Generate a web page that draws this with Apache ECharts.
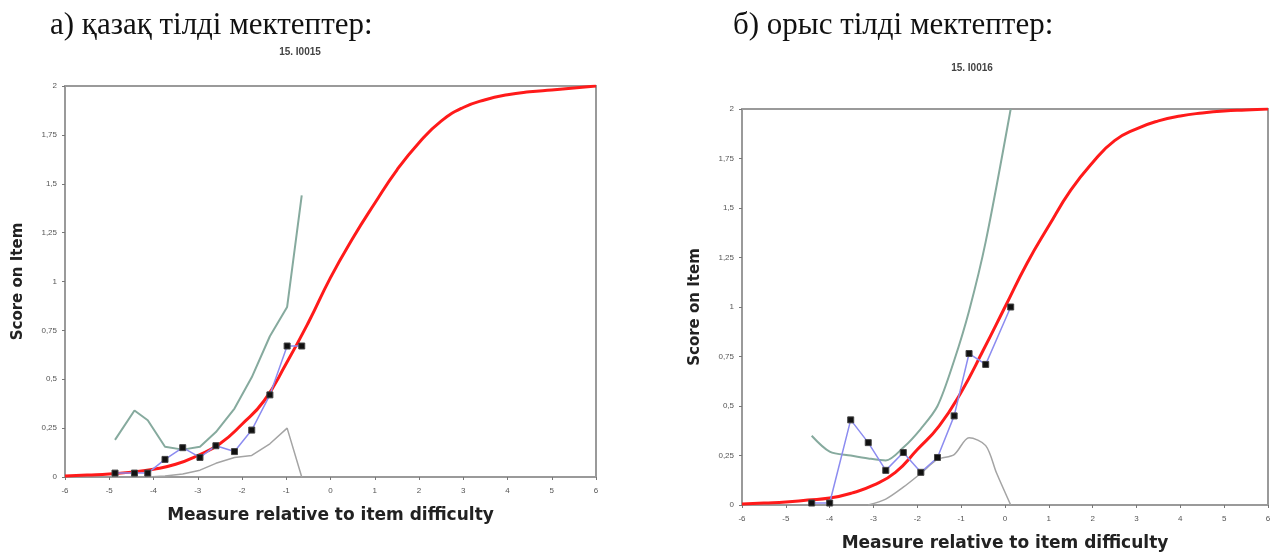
<!DOCTYPE html>
<html>
<head>
<meta charset="utf-8">
<script src="https://cdn.jsdelivr.net/npm/echarts@6/dist/echarts.min.js"></script>
<style>
  html, body { margin: 0; padding: 0; background: #fff; }
  #chart { width: 1275px; height: 557px; }
</style>
</head>
<body>
<div id="chart"></div>
<script>
// шапкалар
const headers = ['а) қазақ тілді мектептер:', 'б) орыс тілді мектептер:']
const itemTitles = ['15. I0015', '15. I0016']
const xName = 'Measure relative to item difficulty'
const yName = 'Score on Item'

// модель қисығы (қызыл) — x нүктелері
const modelX = [-6, -5.5, -5, -4.5, -4, -3.5, -3, -2.5, -2, -1.5, -1, -0.5, 0, 0.5, 1, 1.5, 2, 2.5, 3, 3.5, 4, 4.5, 5, 5.5, 6]
const leftModel = [0.005, 0.01, 0.015, 0.025, 0.04, 0.065, 0.11, 0.17, 0.27, 0.39, 0.58, 0.79, 1.02, 1.22, 1.4, 1.57, 1.71, 1.82, 1.89, 1.93, 1.955, 1.97, 1.98, 1.99, 2]
const rightModel = [0.005, 0.01, 0.015, 0.025, 0.035, 0.06, 0.1, 0.165, 0.28, 0.4, 0.57, 0.78, 1.0, 1.22, 1.41, 1.59, 1.73, 1.84, 1.9, 1.94, 1.965, 1.98, 1.99, 1.995, 2]

// а) бақыланған мәндер
const leftObsX = [-4.87, -4.43, -4.13, -3.74, -3.34, -2.95, -2.59, -2.17, -1.78, -1.37, -0.98, -0.65]
const leftObs = [0.02, 0.02, 0.02, 0.09, 0.15, 0.1, 0.16, 0.13, 0.24, 0.42, 0.67, 0.67]
const leftUpper = [0.19, 0.34, 0.29, 0.155, 0.14, 0.155, 0.23, 0.35, 0.51, 0.72, 0.87, 1.44]
const leftLowerX = [-4.13, -3.74, -3.34, -2.95, -2.59, -2.17, -1.78, -1.37, -0.98, -0.65]
const leftLower = [0, 0.005, 0.015, 0.035, 0.07, 0.1, 0.11, 0.17, 0.25, 0]

// б) бақыланған мәндер
const rightObsX = [-4.41, -4.0, -3.52, -3.12, -2.72, -2.32, -1.92, -1.54, -1.16, -0.82, -0.44, 0.13]
const rightObs = [0.01, 0.01, 0.43, 0.315, 0.175, 0.265, 0.165, 0.24, 0.45, 0.765, 0.71, 1.0]
const rightUpper = [0.35, 0.27, 0.25, 0.235, 0.225, 0.29, 0.385, 0.5, 0.73, 0.98, 1.33, 2.0]
const rightLowerX = [-3.12, -2.72, -2.32, -1.92, -1.54, -1.16, -0.82, -0.44, -0.19, 0.13]
const rightLower = [0, 0.03, 0.09, 0.16, 0.23, 0.255, 0.34, 0.3, 0.16, 0]

const zip = (xs, ys) => xs.map((x, i) => [x, ys[i]])

const grids = [
    { left: 65, top: 86, width: 531, height: 391 },
    { left: 742, top: 109, width: 526, height: 399 }
]

const axisGray = '#9a9a9a'
const labelFont = { fontFamily: 'Liberation Sans', fontSize: 8, color: '#555' }
const xNameFont = { fontFamily: 'DejaVu Sans', fontSize: 17, fontWeight: 'bold', color: '#222' }
const yNameFont = { fontFamily: 'DejaVu Sans', fontSize: 15, fontWeight: 'bold', color: '#222' }

const makeX = (gi) => ({
    type: 'value', gridIndex: gi, min: -6, max: 6, interval: 1,
    name: xName, nameLocation: 'middle', nameGap: 30, nameTextStyle: xNameFont,
    axisLine: { onZero: false, lineStyle: { color: axisGray, width: 2 } },
    axisTick: { length: 3, lineStyle: { color: '#777' } },
    axisLabel: { ...labelFont, margin: 10 },
    splitLine: { show: false }
})
const makeY = (gi) => ({
    type: 'value', gridIndex: gi, min: 0, max: 2, interval: 0.25,
    name: yName, nameLocation: 'middle', nameGap: 39, nameTextStyle: yNameFont,
    axisLine: { show: true, onZero: false, lineStyle: { color: axisGray, width: 2 } },
    axisTick: { show: true, length: 3, lineStyle: { color: '#777' } },
    axisLabel: { ...labelFont, margin: 8, formatter: v => String(v).replace('.', ',') },
    splitLine: { show: false }
})

const lineSeries = (gi, data, color, width, smooth) => ({
    type: 'line', xAxisIndex: gi, yAxisIndex: gi, data,
    showSymbol: false, smooth: smooth, lineStyle: { color, width }, silent: true
})
const obsSeries = (gi, data) => ({
    type: 'line', xAxisIndex: gi, yAxisIndex: gi, data,
    symbol: 'rect', symbolSize: 6, showSymbol: true,
    lineStyle: { color: '#8c8cf0', width: 1.5 },
    itemStyle: { color: '#111', borderColor: '#444', borderWidth: 1 }
})

const headFont = '31px "Liberation Serif"'
const option = {
    animation: false,
    grid: grids.map(g => ({ ...g, show: true, borderColor: axisGray, borderWidth: 2, backgroundColor: '#fff' })),
    xAxis: [makeX(0), makeX(1)],
    yAxis: [makeY(0), makeY(1)],
    graphic: [
        { type: 'text', x: 50, y: 26, style: { text: headers[0], font: headFont, fill: '#111', textVerticalAlign: 'middle' } },
        { type: 'text', x: 733, y: 26, style: { text: headers[1], font: headFont, fill: '#111', textVerticalAlign: 'middle' } },
        { type: 'text', x: 300, y: 52, style: { text: itemTitles[0], font: 'bold 10px "Liberation Sans"', fill: '#444', textAlign: 'center', textVerticalAlign: 'middle' } },
        { type: 'text', x: 972, y: 68, style: { text: itemTitles[1], font: 'bold 10px "Liberation Sans"', fill: '#444', textAlign: 'center', textVerticalAlign: 'middle' } }
    ],
    series: [
        lineSeries(0, zip(leftLowerX, leftLower), '#a4a4a4', 1.5, false),
        lineSeries(0, zip(leftObsX, leftUpper), '#86aa9e', 2, false),
        lineSeries(0, zip(modelX, leftModel), '#ff1a1a', 3, true),
        obsSeries(0, zip(leftObsX, leftObs)),
        lineSeries(1, zip(rightLowerX, rightLower), '#a4a4a4', 1.5, 0.3),
        lineSeries(1, zip(rightObsX, rightUpper), '#86aa9e', 2, 0.3),
        lineSeries(1, zip(modelX, rightModel), '#ff1a1a', 3, true),
        obsSeries(1, zip(rightObsX, rightObs))
    ]
}

const myChart = echarts.init(document.getElementById('chart'))
myChart.setOption(option)
</script>
</body>
</html>
